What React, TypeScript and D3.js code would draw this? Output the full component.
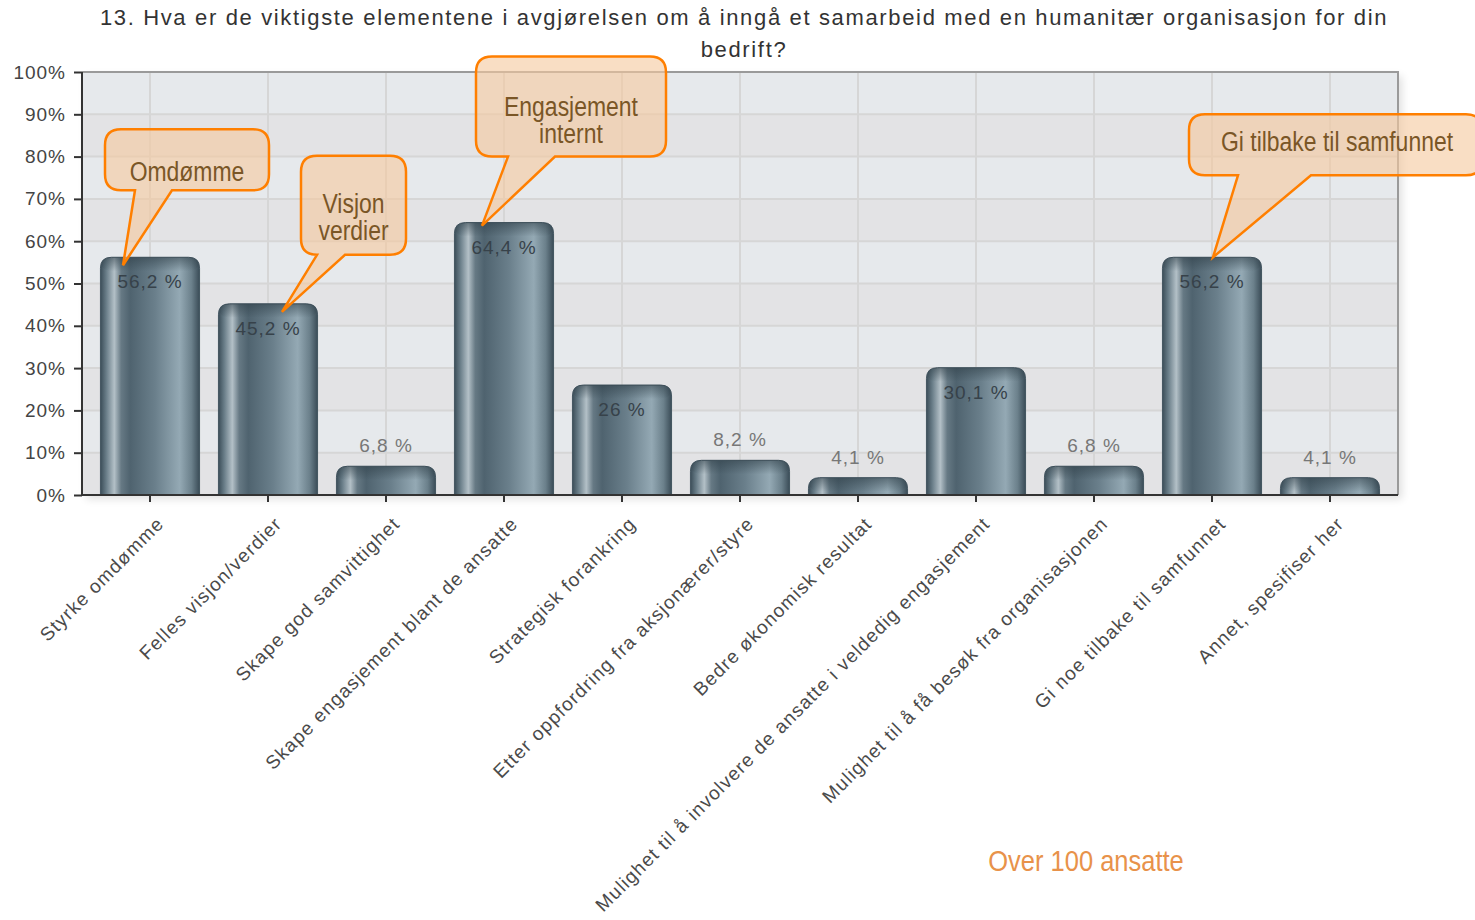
import React, { useEffect, useRef } from "react";
import * as d3 from "d3";

const titleLines = [
  "13. Hva er de viktigste elementene i avgjørelsen om å inngå et samarbeid med en humanitær organisasjon for din",
  "bedrift?",
];

const categories = [
  "Styrke omdømme",
  "Felles visjon/verdier",
  "Skape god samvittighet",
  "Skape engasjement blant de ansatte",
  "Strategisk forankring",
  "Etter oppfordring fra aksjonærer/styre",
  "Bedre økonomisk resultat",
  "Mulighet til å involvere de ansatte i veldedig engasjement",
  "Mulighet til å få besøk fra organisasjonen",
  "Gi noe tilbake til samfunnet",
  "Annet, spesifiser her",
];

const values = [56.2, 45.2, 6.8, 64.4, 26, 8.2, 4.1, 30.1, 6.8, 56.2, 4.1];

const yTicks = [0, 10, 20, 30, 40, 50, 60, 70, 80, 90, 100];

const calloutTexts = [["Omdømme"], ["Visjon", "verdier"], ["Engasjement", "internt"], ["Gi tilbake til samfunnet"]];
const calloutTargets = [0, 1, 3, 9];

const subtitle = "Over 100 ansatte";

const W = 1475;
const H = 920;
const SANS = "'Liberation Sans', Arial, sans-serif";

// box placement relative to the bar centre / bar top
const calloutLayout = [
  { tip: [-27, 8], l: -45, r: 119, t: -128, b: -67, b0: -15, b1: 22, ty: 12 },
  { tip: [14, 8], l: 33, r: 138, t: -148, b: -49, b0: 49, b1: 77, ty: 12 },
  { tip: [-22, 3], l: -28, r: 162, t: -166, b: -66, b0: 4, b1: 51, ty: 13 },
  { tip: [1, 0], l: -23, r: 270, t: -143, b: -82, b0: 26, b1: 99, ty: -3 },
];

const App = () => {
  const svgRef = useRef<SVGSVGElement>(null);

  useEffect(() => {
    const svg = d3.select(svgRef.current);
    svg.selectAll("*").remove();

    const plot = { left: 82, right: 1398, top: 72, bottom: 495 };

    const x = d3
      .scaleBand()
      .domain(categories)
      .range([91, 1389])
      .paddingInner(0)
      .paddingOuter(0);

    const y = d3.scaleLinear().domain([0, 100]).range([plot.bottom, plot.top]);

    const defs = svg.append("defs");

    const grad = defs
      .append("linearGradient")
      .attr("id", "barGrad")
      .attr("x1", "0%")
      .attr("x2", "100%");
    [
      [0, "#3b4d58"],
      [0.06, "#6a7e89"],
      [0.14, "#b3c0c7"],
      [0.21, "#667984"],
      [0.3, "#4f636f"],
      [0.55, "#6a7f8b"],
      [0.8, "#94a9b4"],
      [0.92, "#6b808b"],
      [1, "#3a4c57"],
    ].forEach(([o, c]) => grad.append("stop").attr("offset", o as number).attr("stop-color", c as string));

    const capGrad = defs
      .append("linearGradient")
      .attr("id", "capGrad")
      .attr("x1", 0)
      .attr("x2", 0)
      .attr("y1", 0)
      .attr("y2", 1);
    capGrad.append("stop").attr("offset", 0).attr("stop-color", "#2f3f48").attr("stop-opacity", 0.55);
    capGrad.append("stop").attr("offset", 1).attr("stop-color", "#2f3f48").attr("stop-opacity", 0);

    const shadow = defs.append("filter").attr("id", "plotShadow").attr("x", "-5%").attr("y", "-5%").attr("width", "110%").attr("height", "115%");
    shadow.append("feGaussianBlur").attr("stdDeviation", 4);

    // title
    svg
      .append("g")
      .selectAll("text")
      .data(titleLines)
      .join("text")
      .attr("x", 744)
      .attr("y", (d, i) => 25 + i * 32)
      .attr("text-anchor", "middle")
      .attr("font-family", SANS)
      .attr("font-size", 22)
      .attr("letter-spacing", 1.65)
      .attr("fill", "#333")
      .text((d) => d);

    // plot background
    svg
      .append("rect")
      .attr("x", plot.left + 4)
      .attr("y", plot.top + 4)
      .attr("width", plot.right - plot.left)
      .attr("height", plot.bottom - plot.top)
      .attr("fill", "#000")
      .attr("opacity", 0.12)
      .attr("filter", "url(#plotShadow)");

    svg
      .append("g")
      .selectAll("rect")
      .data(yTicks.slice(0, -1))
      .join("rect")
      .attr("x", plot.left)
      .attr("y", (d) => y(d + 10))
      .attr("width", plot.right - plot.left)
      .attr("height", (d) => y(d) - y(d + 10))
      .attr("fill", (d) => ((d / 10) % 2 === 1 ? "#e6e9ec" : "#e3e3e5"));

    // grid
    svg
      .append("g")
      .selectAll("line")
      .data(yTicks.slice(1, -1))
      .join("line")
      .attr("x1", plot.left)
      .attr("x2", plot.right)
      .attr("y1", (d) => y(d))
      .attr("y2", (d) => y(d))
      .attr("stroke", "#d6d6d6")
      .attr("stroke-width", 2);

    svg
      .append("g")
      .selectAll("line")
      .data(categories)
      .join("line")
      .attr("x1", (d) => x(d)! + x.bandwidth() / 2)
      .attr("x2", (d) => x(d)! + x.bandwidth() / 2)
      .attr("y1", plot.top)
      .attr("y2", plot.bottom)
      .attr("stroke", "#d6d6d6")
      .attr("stroke-width", 2);

    // plot frame top/right
    svg
      .append("path")
      .attr("d", `M${plot.left},${plot.top}H${plot.right}V${plot.bottom}`)
      .attr("fill", "none")
      .attr("stroke", "#9a9a9a")
      .attr("stroke-width", 2);

    // bars
    const barW = x.bandwidth() * 0.84;
    const r = 11;
    const barPath = (cx: number, top: number) => {
      const x0 = cx - barW / 2;
      const x1 = cx + barW / 2;
      const rr = Math.min(r, (plot.bottom - top) / 1.2);
      return `M${x0},${plot.bottom}V${top + rr}Q${x0},${top} ${x0 + rr},${top}H${x1 - rr}Q${x1},${top} ${x1},${top + rr}V${plot.bottom}Z`;
    };

    const bars = svg.append("g");
    categories.forEach((c, i) => {
      const cx = x(c)! + x.bandwidth() / 2;
      const top = y(values[i]);
      bars.append("path").attr("d", barPath(cx, top)).attr("fill", "url(#barGrad)").attr("stroke", "#435560").attr("stroke-width", 1);
      bars
        .append("rect")
        .attr("x", cx - barW / 2 + 1)
        .attr("y", top)
        .attr("width", barW - 2)
        .attr("height", Math.min(14, plot.bottom - top))
        .attr("rx", 10)
        .attr("fill", "url(#capGrad)");
    });

    // value labels
    svg
      .append("g")
      .selectAll("text")
      .data(values)
      .join("text")
      .attr("x", (d, i) => x(categories[i])! + x.bandwidth() / 2)
      .attr("y", (d) => (d >= 20 ? y(d) + 31 : y(d) - 14))
      .attr("text-anchor", "middle")
      .attr("font-family", SANS)
      .attr("font-size", 19)
      .attr("letter-spacing", 1)
      .attr("fill", (d) => (d >= 20 ? "#37424a" : "#777"))
      .text((d) => `${String(d).replace(".", ",")} %`);

    // y axis
    const yAxis = svg
      .append("g")
      .attr("transform", `translate(${plot.left},0)`)
      .call(d3.axisLeft(y).tickValues(yTicks).tickSize(8).tickPadding(8).tickFormat((d) => `${d}%`));
    yAxis.select(".domain").attr("stroke", "#333").attr("stroke-width", 2).attr("d", `M0,${plot.top}V${plot.bottom}`);
    yAxis.selectAll(".tick line").attr("stroke", "#333").attr("stroke-width", 2);
    yAxis
      .selectAll(".tick text")
      .attr("font-family", SANS)
      .attr("font-size", 19)
      .attr("letter-spacing", 1)
      .attr("fill", "#444");

    // x axis
    const xAxis = svg
      .append("g")
      .attr("transform", `translate(0,${plot.bottom})`)
      .call(d3.axisBottom(x).tickSize(7).tickSizeOuter(0));
    xAxis.select(".domain").attr("stroke", "#333").attr("stroke-width", 2).attr("d", `M${plot.left},0H${plot.right}`);
    xAxis.selectAll(".tick line").attr("stroke", "#333").attr("stroke-width", 2);
    xAxis
      .selectAll(".tick text")
      .attr("font-family", SANS)
      .attr("font-size", 19)
      .attr("letter-spacing", 1.15)
      .attr("fill", "#4a4a4a")
      .attr("text-anchor", "end")
      .attr("dy", 0)
      .attr("transform", "translate(8,23) rotate(-45)");

    // callouts
    const cg = svg.append("g");
    calloutTargets.forEach((idx, k) => {
      const L = calloutLayout[k];
      const cx = x(categories[idx])! + x.bandwidth() / 2;
      const top = y(values[idx]);
      const x0 = cx + L.l;
      const x1 = cx + L.r;
      const y0 = top + L.t;
      const y1 = top + L.b;
      const rr = 16;
      const tx = cx + L.tip[0];
      const ty = top + L.tip[1];
      const d =
        `M${x0 + rr},${y0}H${x1 - rr}Q${x1},${y0} ${x1},${y0 + rr}V${y1 - rr}Q${x1},${y1} ${x1 - rr},${y1}` +
        `H${cx + L.b1}L${tx},${ty}L${cx + L.b0},${y1}` +
        `H${x0 + rr}Q${x0},${y1} ${x0},${y1 - rr}V${y0 + rr}Q${x0},${y0} ${x0 + rr},${y0}Z`;
      cg.append("path")
        .attr("d", d)
        .attr("fill", "#f6c9a0")
        .attr("fill-opacity", 0.62)
        .attr("stroke", "#ff7f00")
        .attr("stroke-width", 2.5)
        .attr("stroke-linejoin", "miter");
      const lines = calloutTexts[k];
      const midY = (y0 + y1) / 2 + L.ty;
      const mx = (x0 + Math.min(x1, 1475 + 10)) / 2;
      cg.append("g")
        .selectAll("text")
        .data(lines)
        .join("text")
        .attr("transform", (dd, j) => `translate(${k === 3 ? 1337 : mx},${midY + (j - (lines.length - 1) / 2) * 27}) scale(0.85,1)`)
        .attr("dy", "0.35em")
        .attr("text-anchor", "middle")
        .attr("font-family", SANS)
        .attr("font-size", 27)
        .attr("fill", "#7a5626")
        .text((dd) => dd);
    });

    // subtitle
    svg
      .append("text")
      .attr("transform", "translate(1086,860) scale(0.85,1)")
      .attr("dy", "0.35em")
      .attr("text-anchor", "middle")
      .attr("font-family", SANS)
      .attr("font-size", 30)
      .attr("fill", "#e8924a")
      .text(subtitle);
  }, []);

  return (
    <div style={{ position: "absolute", left: 0, top: 0, width: W, height: H, background: "#fff" }}>
      <svg ref={svgRef} width={W} height={H} style={{ display: "block" }}></svg>
    </div>
  );
};

export default App;
